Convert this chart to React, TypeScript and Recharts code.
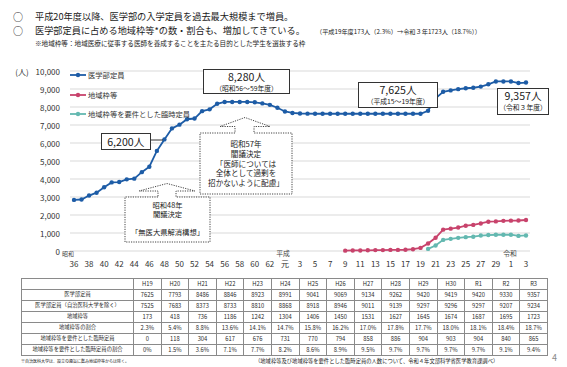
import React from "react";
import { LineChart, Line, XAxis, YAxis, CartesianGrid } from "recharts";

const FONT = '"Noto Sans CJK JP", "Noto Sans", sans-serif';

const BLUE = "#1d5ca6";
const RED = "#c8436c";
const TEAL = "#63b8b0";

const FIRST_YEAR = 1961;
const LAST_YEAR = 2021;
const YEARS = Array.from({ length: LAST_YEAR - FIRST_YEAR + 1 }, (_, i) => FIRST_YEAR + i);

// 医学部定員 昭和36〜平成18年度
const MAIN_EARLY = [
  2840, 2860, 3080, 3240, 3540, 3810, 3830, 3980, 4020, 4380,
  4680, 5560, 6200, 6810, 7020, 7320, 7360, 7770, 7870, 8180,
  8280, 8280, 8280, 8280, 8260, 8200, 8120, 7960, 7750, 7670,
  7640, 7630, 7625, 7625, 7625, 7625, 7625, 7625, 7625, 7625,
  7625, 7625, 7625, 7625, 7625, 7625,
];
// 地域枠等 平成9〜18年度
const REGIONAL_EARLY = [20, 30, 30, 40, 50, 50, 60, 60, 70, 100];

// 表（H19〜R3）
const TABLE_COLS = ["H19", "H20", "H21", "H22", "H23", "H24", "H25", "H26", "H27", "H28", "H29", "H30", "R1", "R2", "R3"];
const TOTAL = [7625, 7793, 8486, 8846, 8923, 8991, 9041, 9069, 9134, 9262, 9420, 9419, 9420, 9330, 9357];
const TOTAL_EXCL = [7525, 7683, 8373, 8733, 8810, 8868, 8918, 8946, 9011, 9139, 9297, 9296, 9297, 9207, 9234];
const REGIONAL = [173, 418, 736, 1186, 1242, 1304, 1406, 1450, 1531, 1627, 1645, 1674, 1687, 1695, 1723];
const REGIONAL_RATE = ["2.3%", "5.4%", "8.8%", "13.6%", "14.1%", "14.7%", "15.8%", "16.2%", "17.0%", "17.8%", "17.7%", "18.0%", "18.1%", "18.4%", "18.7%"];
const TEMP = [0, 118, 304, 617, 676, 731, 770, 794, 858, 886, 904, 903, 904, 840, 865];
const TEMP_RATE = ["0%", "1.5%", "3.6%", "7.1%", "7.7%", "8.2%", "8.6%", "8.9%", "9.5%", "9.7%", "9.7%", "9.7%", "9.7%", "9.1%", "9.4%"];

const TABLE_ROWS = [
  { label: "医学部定員", values: TOTAL },
  { label: "医学部定員（自治医科大学を除く）", values: TOTAL_EXCL },
  { label: "地域枠等", values: REGIONAL },
  { label: "地域枠等の割合", values: REGIONAL_RATE },
  { label: "地域枠等を要件とした臨時定員", values: TEMP },
  { label: "地域枠等を要件とした臨時定員の割合", values: TEMP_RATE },
];

const TICK_YEARS = [
  1961, 1963, 1965, 1967, 1969, 1971, 1973, 1975, 1977, 1979, 1981, 1983, 1985, 1987,
  1989, 1991, 1993, 1995, 1997, 1999, 2001, 2003, 2005, 2007, 2009, 2011, 2013, 2015, 2017,
  2019, 2021,
];
const TICK_LABELS = [
  "36", "38", "40", "42", "44", "46", "48", "50", "52", "54", "56", "58", "60", "62",
  "元", "3", "5", "7", "9", "11", "13", "15", "17", "19", "21", "23", "25", "27", "29",
  "1", "3",
];
const ERAS = [
  { year: 1961, label: "昭和", dx: -6, size: 6 },
  { year: 1989, label: "平成", dx: -2, size: 6.8 },
  { year: 2019, label: "令和", dx: -1, size: 6.8 },
];
const Y_TICKS = [0, 1000, 2000, 3000, 4000, 5000, 6000, 7000, 8000, 9000, 10000];

const DATA = YEARS.map((year, i) => {
  const t = year - 2007;
  return {
    year,
    main: t >= 0 ? TOTAL[t] : MAIN_EARLY[i],
    regional: t >= 0 ? REGIONAL[t] : year >= 1997 ? REGIONAL_EARLY[year - 1997] : null,
    temp: t >= 1 ? TEMP[t] : null,
  };
});

const LEGEND = [
  { name: "医学部定員", color: BLUE },
  { name: "地域枠等", color: RED },
  { name: "地域枠等を要件とした臨時定員", color: TEAL },
];

function XTick(props: any) {
  const { x, y, payload } = props;
  const idx = TICK_YEARS.indexOf(payload.value);
  const era = ERAS.find((e) => e.year === payload.value);
  return (
    <g>
      {era && (
        <text x={x + era.dx} y={y} textAnchor="middle" dominantBaseline="central" fontSize={era.size} fill="#444">
          {era.label}
        </text>
      )}
      <text x={x} y={y + 10} textAnchor="middle" dominantBaseline="central" fontSize={8} fill="#333">
        {TICK_LABELS[idx]}
      </text>
    </g>
  );
}

function YTick(props: any) {
  const { x, y, payload } = props;
  return (
    <g>
      {payload.value === 10000 && (
        <text x={22} y={y} textAnchor="middle" dominantBaseline="central" fontSize={8} fill="#333">
          (人)
        </text>
      )}
      <text x={x} y={y} textAnchor="end" dominantBaseline="central" fontSize={8} fill="#333">
        {payload.value.toLocaleString("en-US")}
      </text>
    </g>
  );
}

function Txt({ x, cy, size, color = "#1a1a1a", children }: any) {
  return (
    <div
      style={{
        position: "absolute",
        left: x,
        top: cy - size * 0.6,
        height: size * 1.2,
        lineHeight: `${size * 1.2}px`,
        fontSize: size,
        whiteSpace: "nowrap",
        color,
      }}
    >
      {children}
    </div>
  );
}

function Callout({ left, top, width, height, main, sub }: any) {
  return (
    <div
      style={{
        position: "absolute",
        left,
        top,
        width,
        height,
        border: "1px solid #333",
        background: "#fff",
        boxSizing: "border-box",
        textAlign: "center",
        color: "#1a1a1a",
        whiteSpace: "nowrap",
      }}
    >
      <div style={{ fontSize: 10.6, height: sub ? 11.5 : height - 2, lineHeight: sub ? "11.5px" : `${height - 2}px`, marginTop: sub ? 1 : 0 }}>
        {main}
      </div>
      {sub && <div style={{ fontSize: 6.8, height: 8.5, lineHeight: "8.5px", marginTop: 1.5 }}>{sub}</div>}
    </div>
  );
}

export default function App() {
  return (
    <div
      style={{
        position: "relative",
        width: 567,
        height: 367,
        background: "#fff",
        fontFamily: FONT,
        overflow: "hidden",
      }}
    >
      <style>{"body{margin:0}"}</style>

      <Txt x={13} cy={17} size={10}>○</Txt>
      <Txt x={35} cy={17} size={9.2}>平成20年度以降、医学部の入学定員を過去最大規模まで増員。</Txt>
      <Txt x={13} cy={31} size={10}>○</Txt>
      <Txt x={35} cy={31} size={9.2}>医学部定員に占める地域枠等*の数・割合も、増加してきている。</Txt>
      <Txt x={316} cy={31.5} size={6.2}>（平成19年度173人（2.3%）→令和３年1723人（18.7%））</Txt>
      <Txt x={35} cy={44} size={6.6}>※地域枠等：地域医療に従事する医師を養成することを主たる目的とした学生を選抜する枠</Txt>

      <div style={{ position: "absolute", left: 0, top: 0 }}>
        <LineChart width={567} height={275} data={DATA} margin={{ top: 71, right: 37, bottom: 0, left: 0 }}>
          <CartesianGrid vertical={false} stroke="#d9d9d9" />
          <XAxis
            dataKey="year"
            type="number"
            domain={[FIRST_YEAR, LAST_YEAR]}
            ticks={TICK_YEARS}
            interval={0}
            tick={(p: any) => <XTick {...p} />}
            tickLine={false}
            axisLine={false}
            tickSize={0}
            tickMargin={2}
            height={24}
            padding={{ left: 4, right: 4 }}
          />
          <YAxis
            domain={[0, 10000]}
            ticks={Y_TICKS}
            interval={0}
            tick={(p: any) => <YTick {...p} />}
            tickLine={false}
            axisLine={false}
            tickSize={0}
            tickMargin={10}
            width={70}
          />
          <Line
            dataKey="main"
            stroke={BLUE}
            strokeWidth={1.8}
            dot={{ r: 2.2, fill: BLUE, stroke: BLUE, strokeWidth: 0 }}
            isAnimationActive={false}
          />
          <Line
            dataKey="regional"
            stroke={RED}
            strokeWidth={1.8}
            dot={{ r: 2.2, fill: RED, stroke: RED, strokeWidth: 0 }}
            isAnimationActive={false}
          />
          <Line
            dataKey="temp"
            stroke={TEAL}
            strokeWidth={1.8}
            dot={{ r: 2.2, fill: TEAL, stroke: TEAL, strokeWidth: 0 }}
            isAnimationActive={false}
          />
        </LineChart>
      </div>

      {/* legend */}
      {LEGEND.map((item, i) => (
        <div key={item.name} style={{ position: "absolute", left: 70, top: 70 + i * 19.5, height: 10, display: "flex", alignItems: "center" }}>
          <svg width={16} height={10}>
            <line x1={0} y1={5} x2={16} y2={5} stroke={item.color} strokeWidth={1.8} />
            <circle cx={8} cy={5} r={2.2} fill={item.color} />
          </svg>
          <span style={{ marginLeft: 2, fontSize: 7.3, color: "#333", whiteSpace: "nowrap" }}>{item.name}</span>
        </div>
      ))}

      {/* dotted annotation boxes */}
      <svg width={567} height={367} style={{ position: "absolute", left: 0, top: 0, pointerEvents: "none" }}>
        <line x1={151} y1={140} x2={163} y2={140} stroke="#333" strokeWidth={1} />
        <path
          d="M235,133 L200,133 L200,194 L292,194 L292,133 L254,133 L254,126.5 L270,126.5 L245,117.5 L220,126.5 L235,126.5 Z"
          fill="#fff"
          stroke="#444"
          strokeWidth={1}
          strokeDasharray="1.2 1.2"
        />
        <path
          d="M158,197 L125,197 L125,242 L210,242 L210,197 L176,197 L176,191 L195,191 L167,183.5 L139,191 L158,191 Z"
          fill="#fff"
          stroke="#444"
          strokeWidth={1}
          strokeDasharray="1.2 1.2"
        />
      </svg>
      <div style={{ position: "absolute", left: 200, top: 139, width: 92, textAlign: "center", fontSize: 7.6, lineHeight: "9.8px", color: "#222" }}>
        <div>昭和57年</div>
        <div>閣議決定</div>
        <div>「医師については</div>
        <div>全体として過剰を</div>
        <div>招かないように配慮」</div>
      </div>
      <div style={{ position: "absolute", left: 125, top: 200.5, width: 85, textAlign: "center", fontSize: 7.3, lineHeight: "9px", color: "#222" }}>
        <div>昭和48年</div>
        <div>閣議決定</div>
        <div style={{ marginTop: 9 }}>「無医大県解消構想」</div>
      </div>

      {/* callouts */}
      <Callout left={100.5} top={132.5} width={50.5} height={17} main="6,200人" />
      <Callout left={203} top={68.5} width={87} height={25} main="8,280人" sub="（昭和56～59年度）" />
      <Callout left={358} top={82} width={80} height={26} main="7,625人" sub="（平成15～19年度）" />
      <Callout left={497} top={88} width={52} height={27} main="9,357人" sub="（令和３年度）" />

      {/* table */}
      <table
        style={{
          position: "absolute",
          left: 21,
          top: 278,
          width: 526,
          borderCollapse: "collapse",
          tableLayout: "fixed",
          fontSize: 5.8,
          color: "#2a2a2a",
        }}
      >
        <colgroup>
          <col style={{ width: 112 }} />
          {TABLE_COLS.map((c) => (
            <col key={c} style={{ width: 27.6 }} />
          ))}
        </colgroup>
        <tbody>
          <tr style={{ height: 11 }}>
            <td style={{ border: "1px solid #8a8a8a", padding: 0 }} />
            {TABLE_COLS.map((c) => (
              <td key={c} style={{ border: "1px solid #8a8a8a", padding: 0, textAlign: "center", lineHeight: 1 }}>
                {c}
              </td>
            ))}
          </tr>
          {TABLE_ROWS.map((row) => (
            <tr key={row.label} style={{ height: 11 }}>
              <td style={{ border: "1px solid #8a8a8a", padding: 0, textAlign: "center", lineHeight: 1, fontSize: 5.3, whiteSpace: "nowrap" }}>
                {row.label}
              </td>
              {row.values.map((v, i) => (
                <td key={i} style={{ border: "1px solid #8a8a8a", padding: 0, textAlign: "center", lineHeight: 1 }}>
                  {v}
                </td>
              ))}
            </tr>
          ))}
        </tbody>
      </table>

      <Txt x={21} cy={361} size={4}>※自治医科大学は、設立の趣旨に鑑み地域枠等からは除く。</Txt>
      <Txt x={255} cy={361} size={5.3}>（地域枠等及び地域枠等を要件とした臨時定員の人数について、令和４年文部科学省医学教育課調べ）</Txt>
      <Txt x={552} cy={358} size={9} color="#8a8a8a">4</Txt>
    </div>
  );
}
